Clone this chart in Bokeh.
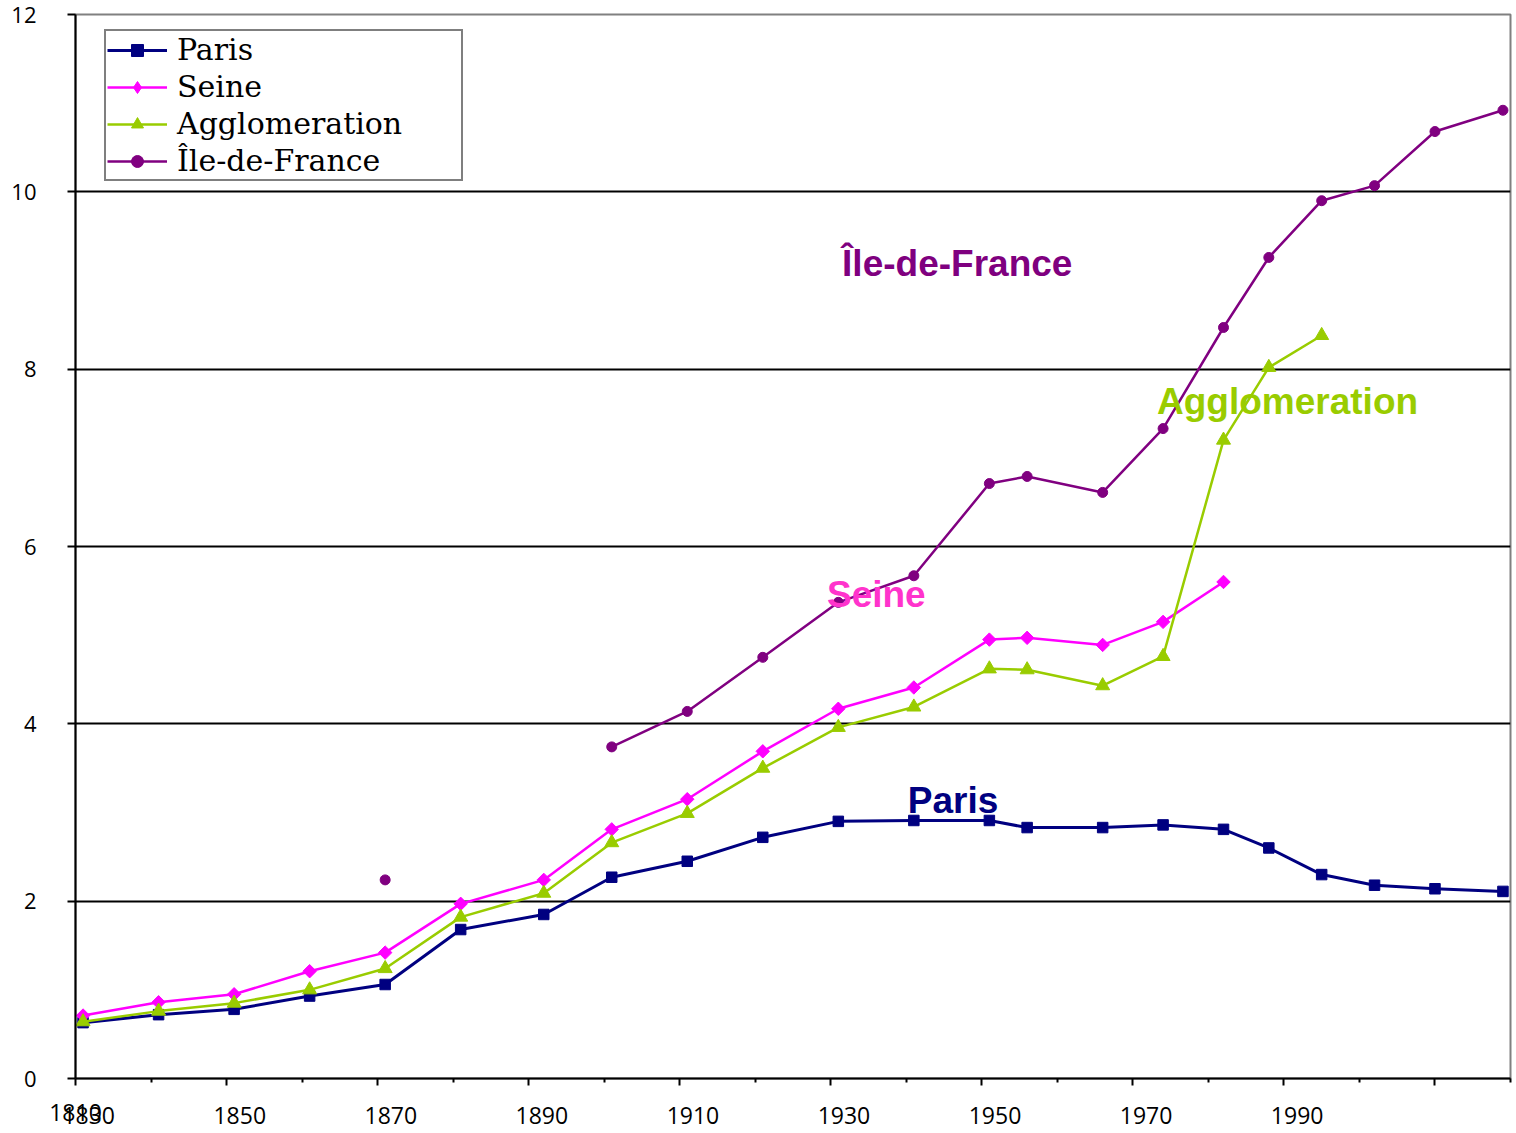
import math
from bokeh.plotting import figure
from bokeh.models import FixedTicker, LinearAxis, Legend, LegendItem, Range1d, ColumnDataSource
from bokeh.core.properties import value
from bokeh.embed import file_html
from bokeh.resources import INLINE

nan = float("nan")

# ---- data (population in millions) ----
years = [1831, 1841, 1851, 1861, 1871, 1881, 1892, 1901, 1911, 1921, 1931,
         1941, 1951, 1956, 1966, 1974, 1982, 1988, 1995, 2002, 2010, 2019]
paris = [0.63, 0.72, 0.78, 0.93, 1.06, 1.68, 1.85, 2.27, 2.45, 2.72, 2.90,
         2.91, 2.91, 2.83, 2.83, 2.86, 2.81, 2.60, 2.30, 2.18, 2.14, 2.11]
seine = [0.71, 0.86, 0.95, 1.21, 1.42, 1.97, 2.24, 2.81, 3.15, 3.69, 4.17,
         4.41, 4.95, 4.97, 4.89, 5.15, 5.60, nan, nan, nan, nan, nan]
agglomeration = [0.64, 0.76, 0.85, 1.00, 1.24, 1.82, 2.09, 2.66, 2.99, 3.50, 3.96,
                 4.19, 4.62, 4.61, 4.43, 4.76, 7.20, 8.02, 8.38, nan, nan, nan]
ile_de_france = [nan, nan, nan, nan, 2.24, nan, nan, 3.74, 4.14, 4.75, 5.37,
                 5.67, 6.71, 6.79, 6.61, 7.33, 8.47, 9.26, 9.90, 10.07, 10.68, 10.92]

series_names = ["Paris", "Seine", "Agglomeration", "Île-de-France"]
series_values = [paris, seine, agglomeration, ile_de_france]

x_major_ticks = [1830, 1850, 1870, 1890, 1910, 1930, 1950, 1970, 1990, 2010]
x_minor_ticks = [1840, 1860, 1880, 1900, 1920, 1940, 1960, 1980, 2000, 2020]
x_tick_labels = ["1830", "1850", "1870", "1890", "1910", "1930", "1950", "1970", "1990"]
y_ticks = [0, 2, 4, 6, 8, 10, 12]
stray_label = "1810"

# ---- styles ----
colors = ["#000080", "#FF00FF", "#99CC00", "#800080"]
markers = ["square", "square", "triangle", "circle"]
legend_markers = ["square", "diamond", "triangle", "circle"]
marker_sizes = [10.5, 9.5, 14, 10]
marker_angles = [0, math.pi / 4, 0, 0]
line_widths = [3, 2.5, 2.5, 2.5]
label_colors = ["#000080", "#FF33CC", "#99CC00", "#7F007F"]
label_x = [1940.2, 1929.5, 1973.2, 1931.5]
label_y = [3.13, 5.46, 7.63, 9.19]
label_offset = 1.75

p = figure(width=1516, height=1133, output_backend="svg", toolbar_location=None,
           x_range=Range1d(1830, 2020), y_range=Range1d(0, 12),
           min_border_left=75, min_border_right=6, min_border_top=14, min_border_bottom=55,
           background_fill_color="white", border_fill_color="white")
p.outline_line_color = "#808080"
p.outline_line_width = 2

# x axis: tick marks, plus the stray "1810" label at the first tick
xa = p.xaxis[0]
xa.ticker = FixedTicker(ticks=x_major_ticks, minor_ticks=x_minor_ticks)
xa.major_label_overrides = {t: (stray_label if i == 0 else "") for i, t in enumerate(x_major_ticks)}
xa.major_label_text_font = "Open Sans"
xa.major_label_text_font_size = "23px"
xa.major_label_text_color = "black"
xa.major_label_standoff = 18
xa.axis_line_color = "black"
xa.axis_line_width = 2
xa.major_tick_line_width = 2
xa.minor_tick_line_width = 2
xa.major_tick_line_color = "black"
xa.minor_tick_line_color = "black"
xa.major_tick_out = 7
xa.major_tick_in = 0
xa.minor_tick_out = 4
xa.minor_tick_in = 0

# x axis labels (offset to the right of the ticks, as in the original)
lab_pos = [t + label_offset for t in x_major_ticks[:len(x_tick_labels)]]
xl = LinearAxis(ticker=FixedTicker(ticks=lab_pos, minor_ticks=[]),
                major_label_overrides={pos: lab for pos, lab in zip(lab_pos, x_tick_labels)})
xl.axis_line_color = None
xl.major_tick_line_color = None
xl.minor_tick_line_color = None
xl.major_tick_out = 0
xl.major_tick_in = 0
xl.major_label_standoff = -17
xl.major_label_text_font = "Open Sans"
xl.major_label_text_font_size = "23px"
xl.major_label_text_color = "black"
p.add_layout(xl, "below")

# y axis
ya = p.yaxis[0]
ya.ticker = FixedTicker(ticks=y_ticks, minor_ticks=[])
ya.axis_line_color = "black"
ya.axis_line_width = 2
ya.major_tick_line_width = 2
ya.major_tick_out = 8
ya.major_tick_in = 0
ya.minor_tick_line_color = None
ya.major_label_standoff = 31
ya.major_label_text_font = "Open Sans"
ya.major_label_text_font_size = "22px"
ya.major_label_text_color = "black"

p.xgrid.visible = False
p.ygrid.ticker = FixedTicker(ticks=y_ticks[1:-1], minor_ticks=[])
p.ygrid.grid_line_color = "black"
p.ygrid.grid_line_width = 2

items = []
for name, vals, c, m, lm, ms, ang, lw in zip(series_names, series_values, colors, markers,
                                             legend_markers, marker_sizes, marker_angles, line_widths):
    src = ColumnDataSource(dict(x=years, y=vals))
    lr = p.line("x", "y", source=src, line_color=c, line_width=lw)
    p.scatter("x", "y", source=src, marker=m, size=ms, angle=ang,
              fill_color=c, line_color=c)
    # legend-only marker (no visible data)
    lg = p.scatter(x=[nan], y=[nan], marker=lm, size=ms, fill_color=c, line_color=c)
    items.append(LegendItem(label=name, renderers=[lr, lg]))

lsrc = ColumnDataSource(dict(x=label_x, y=label_y, t=series_names, c=label_colors))
p.text("x", "y", text="t", source=lsrc, text_color="c", text_font=value("Liberation Sans"),
       text_font_style="bold", text_font_size="37px", text_baseline="alphabetic",
       text_align="left")

legend = Legend(items=items, location=(29, 897), orientation="vertical")
legend.label_text_font = "DejaVu Serif"
legend.label_text_font_size = "30px"
legend.label_text_color = "black"
legend.glyph_width = 60
legend.glyph_height = 30
legend.label_standoff = 10
legend.label_width = 283
legend.spacing = 2
legend.padding = 1
legend.margin = 0
legend.border_line_color = "black"
legend.border_line_width = 2
legend.background_fill_color = "white"
legend.background_fill_alpha = 1
p.add_layout(legend, "center")

open("out.html", "w").write(file_html(p, INLINE))
